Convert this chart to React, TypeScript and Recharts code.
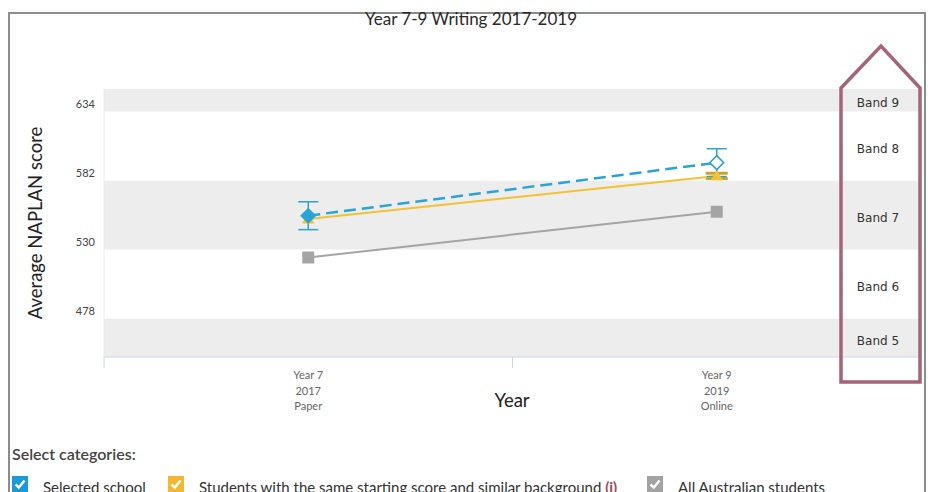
import React from "react";
import {
  LineChart, Line, XAxis, YAxis, ReferenceArea, ErrorBar,
} from "recharts";

// categories (x positions 0 and 1)
const yearLines = [
  ["Year 7", "2017", "Paper"],
  ["Year 9", "2019", "Online"],
];

// series values
const schoolScores = [555.5, 595.5];
const schoolErrors = [10.5, 10.5];
const schoolFilled = [true, false];
const similarScores = [553, 585.5];
const similarErrors = [0, 2];
const australiaScores = [524, 558.5];

// y axis
const yTicks = [478, 530, 582, 634];
const yMin = 449;
const yMax = 651;

// NAPLAN bands, clamped to the visible range
const bandNames = ["Band 5", "Band 6", "Band 7", "Band 8", "Band 9"];
const bandLows = [yMin, 478, 530, 582, 634];
const bandHighs = [478, 530, 582, 634, yMax];
const bandShaded = [true, false, true, false, true];

const data = yearLines.map((_, i) => ({
  x: i,
  school: schoolScores[i],
  schoolErr: schoolErrors[i],
  similar: similarScores[i],
  similarErr: similarErrors[i],
  australia: australiaScores[i],
}));

const FONT = "Lato, 'Open Sans', sans-serif";
const BLUE = "#2aa3d6";
const YELLOW = "#f3c232";
const GREY = "#a4a4a4";

const YTick = (props: any) => (
  <text x={props.x - 9} y={props.y - 8} textAnchor="end" dominantBaseline="central"
    fontSize={11} fill="#444" fontFamily={FONT}>
    {props.payload.value}
  </text>
);

const XTick = (props: any) => {
  const v = props.payload.value;
  if (!Number.isInteger(v)) {
    return <line x1={props.x} x2={props.x} y1={props.y} y2={props.y + 11} stroke="#ccd6eb" />;
  }
  return (
    <g>
      {yearLines[v].map((t, k) => (
        <text key={k} x={props.x} y={props.y + 17.5 + k * 15.5} textAnchor="middle"
          dominantBaseline="central" fontSize={11} fill="#666" fontFamily={FONT}>
          {t}
        </text>
      ))}
    </g>
  );
};

const diamondDot = (props: any) => {
  const { cx, cy, index } = props;
  const r = 7;
  const filled = schoolFilled[index];
  return (
    <path key={index} d={`M${cx},${cy - r} L${cx + r},${cy} L${cx},${cy + r} L${cx - r},${cy} Z`}
      fill={filled ? BLUE : "#fff"} stroke={BLUE} strokeWidth={1.5} />
  );
};

const triangleDot = (props: any) => {
  const { cx, cy, index } = props;
  return (
    <path key={index} d={`M${cx},${cy - 5} L${cx + 5.5},${cy + 4} L${cx - 5.5},${cy + 4} Z`}
      fill={YELLOW} stroke={YELLOW} />
  );
};

const squareDot = (props: any) => {
  const { cx, cy, index } = props;
  return <rect key={index} x={cx - 6} y={cy - 6} width={12} height={12} fill={GREY} />;
};

const bandLabel = (name: string) => (props: any) => {
  const vb = props.viewBox;
  return (
    <text x={vb.x + vb.width - 43} y={vb.y + vb.height / 2 + 3} textAnchor="middle"
      dominantBaseline="central" fontSize={12} fill="#333" fontFamily="'DejaVu Sans', Verdana, sans-serif">
      {name}
    </text>
  );
};

const yLabel = (props: any) => {
  const vb = props.viewBox;
  const cx = vb.x + 15;
  const cy = 223;
  return (
    <text x={cx} y={cy} transform={`rotate(-90 ${cx} ${cy})`} textAnchor="middle"
      dominantBaseline="central" fontSize={18.5} fill="#222" fontFamily={FONT}>
      Average NAPLAN score
    </text>
  );
};

const Check = ({ color, x }: { color: string; x: number }) => (
  <svg style={{ position: "absolute", left: x, top: 476 }} width={16} height={16}>
    <rect width={16} height={16} fill={color} />
    <path d="M3.5,8.5 L6.8,11.5 L12.5,4.5" stroke="#fff" strokeWidth={2.4} fill="none" />
  </svg>
);

const legendText: React.CSSProperties = {
  position: "absolute", top: 478, fontSize: 15, color: "#333", fontFamily: FONT, whiteSpace: "nowrap", lineHeight: "18px",
};

export default function App() {
  return (
    <div style={{ position: "fixed", left: 0, top: 0, width: 928, height: 492, background: "#fff", overflow: "hidden" }}>
      <div style={{ position: "absolute", left: 8, top: 12, width: 914, height: 500, border: "2px solid #8c8c8c" }} />
      <div style={{ position: "absolute", left: 471, top: 8, transform: "translateX(-50%)", fontSize: 17,
        color: "#2a2a2a", fontFamily: FONT, whiteSpace: "nowrap", lineHeight: "22px" }}>
        Year 7-9 Writing 2017-2019
      </div>
      <div style={{ position: "absolute", left: 0, top: 0 }}>
        <LineChart width={928} height={492} data={data}
          margin={{ top: 89, right: 7, bottom: 95, left: 20 }}>
          {bandNames.map((name, i) => (
            <ReferenceArea key={name} y1={bandLows[i]} y2={bandHighs[i]}
              fill={bandShaded[i] ? "#ededed" : "#fff"} fillOpacity={1} stroke="none"
              label={bandLabel(name)} />
          ))}
          <XAxis dataKey="x" type="number" domain={[-0.5, 1.5]} ticks={[-0.5, 0, 0.5, 1, 1.5]}
            height={40} tickSize={0} tickMargin={0} tickLine={false} tick={<XTick />}
            axisLine={{ stroke: "#ccd6eb" }} interval={0} allowDataOverflow />
          <YAxis type="number" domain={[yMin, yMax]} ticks={yTicks} width={84}
            tickSize={0} tickMargin={0} tickLine={false} tick={<YTick />}
            axisLine={{ stroke: "#e8e8e8" }} label={yLabel} interval={0} allowDataOverflow />
          <Line dataKey="australia" stroke={GREY} strokeWidth={2} dot={squareDot}
            activeDot={false} isAnimationActive={false} />
          <Line dataKey="similar" stroke={YELLOW} strokeWidth={2} dot={triangleDot}
            activeDot={false} isAnimationActive={false}>
            <ErrorBar dataKey="similarErr" direction="y" width={11} strokeWidth={3} stroke="#c8a52a" />
          </Line>
          <Line dataKey="school" stroke={BLUE} strokeWidth={2.5} strokeDasharray="12 6"
            dot={diamondDot} activeDot={false} isAnimationActive={false}>
            <ErrorBar dataKey="schoolErr" direction="y" width={10} strokeWidth={1.5} stroke={BLUE} />
          </Line>
        </LineChart>
      </div>
      <div style={{ position: "absolute", left: 512, top: 388, transform: "translateX(-50%)", fontSize: 18.5,
        color: "#222", fontFamily: FONT, lineHeight: "24px" }}>
        Year
      </div>
      <svg style={{ position: "absolute", left: 0, top: 0 }} width={928} height={492}>
        <polygon points="841,88 881,46 920,88 920,382 841,382" fill="none" stroke="#a6637a" strokeWidth={3.5} />
      </svg>
      <div style={{ position: "absolute", left: 12, top: 444, fontSize: 16, color: "#444", fontFamily: FONT,
        lineHeight: "20px", fontWeight: 600 }}>
        Select categories:
      </div>
      <Check color="#1a9ad6" x={12} />
      <div style={{ ...legendText, left: 43 }}>Selected school</div>
      <Check color="#f4b731" x={168} />
      <div style={{ ...legendText, left: 199 }}>
        Students with the same starting score and similar background{" "}
        <span style={{ color: "#a3435c", fontWeight: 700 }}>(i)</span>
      </div>
      <Check color="#a3a3a3" x={647} />
      <div style={{ ...legendText, left: 678 }}>All Australian students</div>
    </div>
  );
}
